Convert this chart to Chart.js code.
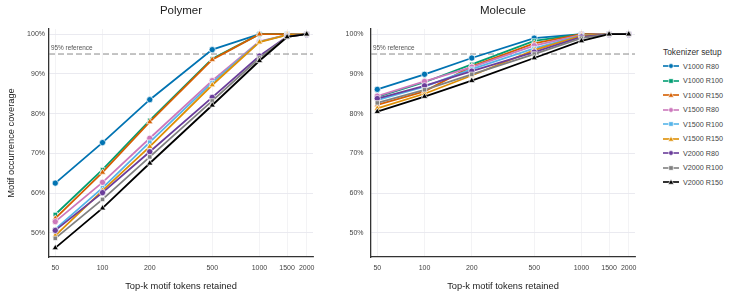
<!DOCTYPE html>
<html><head><meta charset="utf-8">
<script src="https://cdn.jsdelivr.net/npm/chart.js@4"></script>
<style>
html,body{margin:0;padding:0;background:#fff;width:730px;height:298px;overflow:hidden;font-family:"Liberation Sans",Arial,sans-serif;}
#c1{position:absolute;left:0;top:0;}
#c2{position:absolute;left:330px;top:0;}
#legend{position:absolute;left:663px;top:45px;color:#333;}
#legend .ttl{font-size:8.4px;line-height:14px;height:14px;}
#legend .it{display:flex;align-items:center;height:14.5px;font-size:7.2px;color:#444;}
#legend svg{margin-right:4px;}
</style></head>
<body>
<canvas id="c1" width="330" height="298"></canvas>
<canvas id="c2" width="320" height="298"></canvas>
<div id="legend"></div>
<script>
// ---- data ----
const topK = [50, 100, 200, 500, 1000, 1500, 2000];
const seriesNames = ["V1000 R80","V1000 R100","V1000 R150","V1500 R80","V1500 R100","V1500 R150","V2000 R80","V2000 R100","V2000 R150"];
const yTicks = [50, 60, 70, 80, 90, 100];
const referenceLevel = 95;

const polymerV1000R80  = [62.5, 72.7, 83.5, 96.1, 100, 100, 100];
const polymerV1000R100 = [54.6, 65.9, 78.3, 93.8, 100, 100, 100];
const polymerV1000R150 = [53.6, 65.2, 77.9, 93.6, 100, 100, 100];
const polymerV1500R80  = [52.8, 62.7, 73.8, 88.3, 98.2, 99.8, 100];
const polymerV1500R100 = [50.9, 61.3, 72.8, 87.8, 98.1, 99.8, 100];
const polymerV1500R150 = [49.3, 60.6, 71.7, 87.2, 98.0, 99.8, 100];
const polymerV2000R80  = [50.6, 60.1, 70.4, 84.1, 94.5, 99.4, 100];
const polymerV2000R100 = [48.6, 58.4, 69.1, 83.2, 94.0, 99.3, 100];
const polymerV2000R150 = [46.2, 56.2, 67.5, 82.1, 93.3, 99.3, 100];

const moleculeV1000R80  = [86.1, 89.9, 94.0, 99.0, 100, 100, 100];
const moleculeV1000R100 = [84.2, 87.9, 92.4, 98.3, 100, 100, 100];
const moleculeV1000R150 = [82.2, 85.6, 91.9, 97.7, 100, 100, 100];
const moleculeV1500R80  = [84.4, 88.1, 91.7, 97.1, 99.8, 100, 100];
const moleculeV1500R100 = [83.4, 86.8, 91.2, 96.4, 99.7, 100, 100];
const moleculeV1500R150 = [81.3, 85.0, 89.6, 96.0, 99.6, 100, 100];
const moleculeV2000R80  = [83.8, 87.0, 90.7, 95.5, 99.3, 100, 100];
const moleculeV2000R100 = [82.7, 86.0, 89.9, 95.0, 99.0, 100, 100];
const moleculeV2000R150 = [80.5, 84.3, 88.3, 94.0, 98.3, 100, 100];

const polymerSeries = [polymerV1000R80, polymerV1000R100, polymerV1000R150, polymerV1500R80, polymerV1500R100, polymerV1500R150, polymerV2000R80, polymerV2000R100, polymerV2000R150];
const moleculeSeries = [moleculeV1000R80, moleculeV1000R100, moleculeV1000R150, moleculeV1500R80, moleculeV1500R100, moleculeV1500R150, moleculeV2000R80, moleculeV2000R100, moleculeV2000R150];

// ---- styles ----
const colors = ["#0173B2","#029E73","#D55E00","#CC78BC","#56B4E9","#DE8F05","#6A3D9A","#808080","#000000"];
const shapes = ["circle","rect","triangle","circle","rect","triangle","circle","rect","triangle"];
const FONT = "'Liberation Sans', Arial, sans-serif";
const X_MIN = 45.6, X_MAX = 2193, Y_MIN = 43.9, Y_MAX = 101.3;

function makeDatasets(series) {
  const ds = series.map((vals, i) => ({
    label: seriesNames[i],
    data: vals.map((v, j) => ({x: topK[j], y: v})),
    borderColor: colors[i],
    backgroundColor: colors[i],
    pointStyle: shapes[i],
    pointRadius: shapes[i] === 'triangle' ? 3.6 : 3.1,
    pointBorderColor: '#ffffff',
    pointBorderWidth: 0.7,
    borderWidth: 1.8,
    order: series.length - i,
    tension: 0
  }));
  ds.push({
    label: 'ref',
    data: [{x: X_MIN, y: referenceLevel}, {x: X_MAX, y: referenceLevel}],
    borderColor: '#8a8a8a',
    borderWidth: 1,
    borderDash: [6, 3],
    pointRadius: 0,
    order: 100,
    isRef: true
  });
  return ds;
}

const refLabel = {
  id: 'refLabel',
  afterDatasetsDraw(chart) {
    const {ctx, scales: {y}, chartArea} = chart;
    const py = y.getPixelForValue(referenceLevel);
    ctx.save();
    ctx.font = "6.4px " + FONT;
    ctx.fillStyle = '#555';
    ctx.textAlign = 'left';
    ctx.textBaseline = 'bottom';
    ctx.fillText(referenceLevel + '% reference', chartArea.left + 2, py - 3);
    ctx.restore();
  }
};

function makeOptions(title, yWidth, yPad, showYTitle, padRight) {
  return {
    responsive: false,
    animation: false,
    layout: {padding: {left: 0, right: padRight, top: 0, bottom: 0}},
    plugins: {
      legend: {display: false},
      tooltip: {enabled: false},
      title: {
        display: true, text: title, fullSize: false,
        color: '#222', font: {family: FONT, size: 11.5, weight: 'normal'},
        padding: {top: 4, bottom: 11.2}
      }
    },
    scales: {
      x: {
        type: 'logarithmic', min: X_MIN, max: X_MAX,
        afterBuildTicks: s => { s.ticks = topK.map(v => ({value: v})); },
        afterFit: s => { s.height = 41; },
        ticks: {callback: v => String(v), color: '#444', font: {family: FONT, size: 7}, padding: 7, maxRotation: 0, autoSkip: false},
        grid: {color: '#f0f0f3', lineWidth: 0.8, drawTicks: false},
        border: {display: true, color: '#333', width: 1.3},
        title: {display: true, text: 'Top-k motif tokens retained', color: '#222', font: {family: FONT, size: 9.3}, padding: {top: 0, bottom: 6.4}}
      },
      y: {
        type: 'linear', min: Y_MIN, max: Y_MAX,
        afterBuildTicks: s => { s.ticks = yTicks.map(v => ({value: v})); },
        afterFit: s => { s.width = yWidth; },
        ticks: {callback: v => v + '%', color: '#444', font: {family: FONT, size: 7}, padding: yPad},
        grid: {color: '#e8e8ee', lineWidth: 0.9, drawTicks: false},
        border: {display: true, color: '#333', width: 1.3},
        title: {display: showYTitle, text: 'Motif occurrence coverage', color: '#222', font: {family: FONT, size: 9.3}, padding: {top: 6, bottom: 0}}
      }
    }
  };
}

const htmlLegend = {
  id: 'htmlLegend',
  afterUpdate(chart) {
    const box = document.getElementById('legend');
    box.innerHTML = '';
    const t = document.createElement('div');
    t.className = 'ttl';
    t.textContent = 'Tokenizer setup';
    box.appendChild(t);
    chart.data.datasets.filter(d => !d.isRef).forEach(d => {
      const row = document.createElement('div');
      row.className = 'it';
      const c = d.borderColor;
      let mk;
      if (d.pointStyle === 'circle') mk = `<circle cx="8" cy="4" r="2.4" fill="${c}" stroke="#fff" stroke-width="0.7"/>`;
      else if (d.pointStyle === 'rect') mk = `<rect x="5.8" y="1.8" width="4.4" height="4.4" fill="${c}" stroke="#fff" stroke-width="0.7"/>`;
      else mk = `<polygon points="8,1.2 10.8,6.2 5.2,6.2" fill="${c}" stroke="#fff" stroke-width="0.7"/>`;
      row.innerHTML = `<svg width="16" height="8" viewBox="0 0 16 8"><line x1="0" y1="4" x2="16" y2="4" stroke="${c}" stroke-width="1.6"/>${mk}</svg>`;
      const sp = document.createElement('span');
      sp.textContent = d.label;
      row.appendChild(sp);
      box.appendChild(row);
    });
  }
};

new Chart(document.getElementById('c1'), {
  type: 'line',
  data: {datasets: makeDatasets(polymerSeries)},
  options: makeOptions('Polymer', 49, 4, true, 17),
  plugins: [refLabel]
});

new Chart(document.getElementById('c2'), {
  type: 'line',
  data: {datasets: makeDatasets(moleculeSeries)},
  options: makeOptions('Molecule', 41, 7.5, false, 15),
  plugins: [refLabel, htmlLegend]
});
</script>
</body></html>
